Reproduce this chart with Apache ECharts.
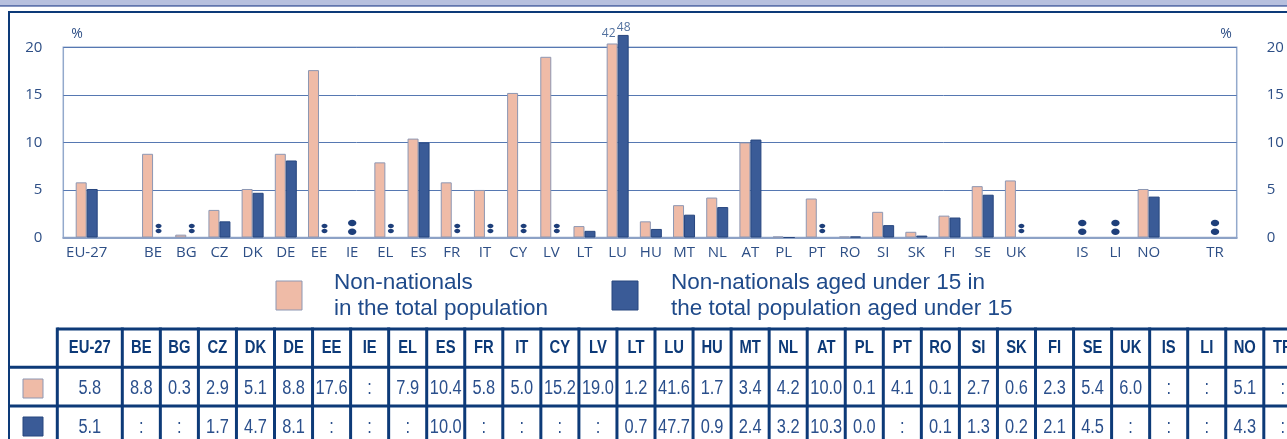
<!DOCTYPE html>
<html>
<head>
<meta charset="utf-8">
<script src="https://cdn.jsdelivr.net/npm/echarts@6/dist/echarts.min.js"></script>
<style>
html, body { margin: 0; padding: 0; background: #fff; }
#main { width: 1287px; height: 439px; }
</style>
</head>
<body>
<div id="main"></div>
<script>
// data (null = ':' not available)
var countries = ['EU-27', 'BE', 'BG', 'CZ', 'DK', 'DE', 'EE', 'IE', 'EL', 'ES', 'FR', 'IT', 'CY', 'LV', 'LT',
    'LU', 'HU', 'MT', 'NL', 'AT', 'PL', 'PT', 'RO', 'SI', 'SK', 'FI', 'SE', 'UK', 'IS', 'LI', 'NO', 'TR'];
var nonNationals = [5.8, 8.8, 0.3, 2.9, 5.1, 8.8, 17.6, null, 7.9, 10.4, 5.8, 5.0, 15.2, 19.0, 1.2,
    41.6, 1.7, 3.4, 4.2, 10.0, 0.1, 4.1, 0.1, 2.7, 0.6, 2.3, 5.4, 6.0, null, null, 5.1, null];
var nonNationalsUnder15 = [5.1, null, null, 1.7, 4.7, 8.1, null, null, null, 10.0, null, null, null, null, 0.7,
    47.7, 0.9, 2.4, 3.2, 10.3, 0.0, null, 0.1, 1.3, 0.2, 2.1, 4.5, null, null, null, 4.3, null];
var seriesNames = ['Non-nationals\nin the total population',
    'Non-nationals aged under 15 in\nthe total population aged under 15'];
var gapAfter = ['EU-27', 'UK', 'NO'];
var yTicks = [0, 5, 10, 15, 20];

var PINK = '#efbba7', BLUE = '#3a5b97', NAVY = '#0d3a78', TXT = '#2e4f86';
// bars above the axis top are cut (broken bar) at these heights
var cutAt = [20.4, 21.3];

// category slots with empty gaps between groups
var slots = [], slotTotal = [], slotU15 = [], colons = [];
countries.forEach(function (c, i) {
    var idx = slots.length;
    slots.push(c);
    var a = nonNationals[i], b = nonNationalsUnder15[i];
    slotTotal.push(a == null ? '-' : { value: Math.min(a, cutAt[0]), real: a });
    slotU15.push(b == null ? '-' : { value: Math.min(b, cutAt[1]), real: b });
    if (a == null && b == null) colons.push([idx, 2]);
    else if (b == null) colons.push([idx, 1]);
    else if (a == null) colons.push([idx, 0]);
    if (gapAfter.indexOf(c) >= 0) {
        slots.push('');
        slotTotal.push('-');
        slotU15.push('-');
    }
});

function barLabel(dx, dist) {
    return {
        show: true, position: 'top', distance: dist, offset: [dx, 0],
        color: '#52719f', fontSize: 12, fontFamily: 'Open Sans',
        formatter: function (p) { return p.data.real > 20 ? String(Math.round(p.data.real)) : ''; }
    };
}

// table + legend drawn as graphic
var graphic = [
    { type: 'rect', shape: { x: 0, y: 0, width: 1287, height: 5 }, style: { fill: '#b7c0de' } },
    { type: 'rect', shape: { x: 0, y: 5, width: 1287, height: 1.7 }, style: { fill: '#6175ad' } },
    { type: 'rect', shape: { x: 8, y: 11, width: 1279, height: 2 }, style: { fill: NAVY } },
    { type: 'rect', shape: { x: 8, y: 11, width: 2, height: 428 }, style: { fill: NAVY } },
    { type: 'text', x: 77, y: 34, style: { text: '%', fill: TXT, font: '14px "Open Sans"', align: 'center', verticalAlign: 'middle' } },
    { type: 'text', x: 1226, y: 34, style: { text: '%', fill: TXT, font: '14px "Open Sans"', align: 'center', verticalAlign: 'middle' } }
];

// legend
[[276, PINK, '#8d97b3', 334], [612, BLUE, '#27467f', 671]].forEach(function (l, i) {
    graphic.push({ type: 'rect', shape: { x: l[0], y: 281, width: 26, height: 29 },
        style: { fill: l[1], stroke: l[2], lineWidth: 1 } });
    graphic.push({ type: 'text', x: l[3], y: 296,
        style: { text: seriesNames[i], fill: '#1f4a8a', font: '22.5px "Liberation Sans", Arial, sans-serif',
            lineHeight: 25.5, verticalAlign: 'middle' } });
});

// table
var tLeft = 57.3, firstW = 65, colW = 38.05;
var rowY = [329, 367.3, 406];
var narrow = '"Liberation Sans", Arial, sans-serif', squeeze = 0.8;
var edges = [tLeft, tLeft + firstW];
for (var k = 1; k < countries.length; k++) edges.push(tLeft + firstW + k * colW);
graphic.push({ type: 'line', shape: { x1: tLeft, y1: rowY[0], x2: 1290, y2: rowY[0] }, style: { stroke: NAVY, lineWidth: 3 } });
graphic.push({ type: 'line', shape: { x1: 8, y1: rowY[1], x2: 1290, y2: rowY[1] }, style: { stroke: NAVY, lineWidth: 3 } });
graphic.push({ type: 'line', shape: { x1: 8, y1: rowY[2], x2: 1290, y2: rowY[2] }, style: { stroke: NAVY, lineWidth: 3 } });
edges.forEach(function (x) {
    graphic.push({ type: 'line', shape: { x1: x, y1: rowY[0] - 1.5, x2: x, y2: 445 }, style: { stroke: NAVY, lineWidth: 3 } });
});
function fmt(v) { return v == null ? ':' : v.toFixed(1); }
countries.forEach(function (c, i) {
    var cx = (edges[i] + edges[i + 1]) / 2;
    graphic.push({ type: 'text', x: cx, y: 348, scaleX: squeeze, style: { text: c, fill: NAVY, font: 'bold 18.5px ' + narrow, align: 'center', verticalAlign: 'middle' } });
    graphic.push({ type: 'text', x: cx, y: 388, scaleX: squeeze, style: { text: fmt(nonNationals[i]), fill: '#2a4f8c', font: '20.5px ' + narrow, align: 'center', verticalAlign: 'middle' } });
    graphic.push({ type: 'text', x: cx, y: 427, scaleX: squeeze, style: { text: fmt(nonNationalsUnder15[i]), fill: '#2a4f8c', font: '20.5px ' + narrow, align: 'center', verticalAlign: 'middle' } });
});
graphic.push({ type: 'rect', shape: { x: 23, y: 379, width: 20, height: 19 }, style: { fill: PINK, stroke: '#8d97b3', lineWidth: 1 } });
graphic.push({ type: 'rect', shape: { x: 23, y: 417, width: 20, height: 19 }, style: { fill: BLUE, stroke: '#27467f', lineWidth: 1 } });

var myChart = echarts.init(document.getElementById('main'));
myChart.setOption({
    animation: false,
    grid: [
        { left: 63.3, right: 50.3, top: 47.3, bottom: 201.5, show: true, borderColor: '#93a9cc', borderWidth: 1.5,
          containLabel: false, outerBoundsMode: 'none' },
        { left: 70.1, right: 55.4, top: 47.3, bottom: 201.5, containLabel: false, outerBoundsMode: 'none' }
    ],
    xAxis: [
        { type: 'value', gridIndex: 0, min: 0, max: 1, axisLabel: { show: false }, splitLine: { show: false },
          axisTick: { show: false }, axisLine: { show: true, lineStyle: { color: '#8da2c6', width: 2 } } },
        { type: 'category', gridIndex: 1, data: slots, boundaryGap: true,
          axisLine: { show: false }, axisTick: { show: false },
          axisLabel: { interval: 0, margin: 8, color: TXT, fontSize: 15, fontFamily: 'Open Sans' } }
    ],
    yAxis: [
        { type: 'value', gridIndex: 0, position: 'left', min: yTicks[0], max: yTicks[yTicks.length - 1], interval: 5,
          axisLine: { show: false }, axisTick: { show: false },
          axisLabel: { margin: 21, color: TXT, fontSize: 15, fontFamily: 'Open Sans', padding: [0, 0, 6, 0] },
          splitLine: { show: true, lineStyle: { color: '#5678b2', width: 1 } } },
        { type: 'value', gridIndex: 0, position: 'right', min: yTicks[0], max: yTicks[yTicks.length - 1], interval: 5,
          axisLine: { show: false }, axisTick: { show: false },
          axisLabel: { margin: 30, color: TXT, fontSize: 15, fontFamily: 'Open Sans', padding: [0, 0, 6, 0] },
          splitLine: { show: false } },
        { type: 'value', gridIndex: 1, min: 0, max: 20, show: false }
    ],
    graphic: graphic,
    series: [
        {
            name: seriesNames[0], type: 'bar', xAxisIndex: 1, yAxisIndex: 2,
            barWidth: 11, barGap: '0%', clip: false,
            itemStyle: { color: PINK, borderColor: '#8d97b3', borderWidth: 1 },
            label: barLabel(-3.5, 4),
            data: slotTotal
        },
        {
            name: seriesNames[1], type: 'bar', xAxisIndex: 1, yAxisIndex: 2,
            barWidth: 11, barGap: '0%', clip: false,
            itemStyle: { color: BLUE, borderColor: '#27467f', borderWidth: 1 },
            label: barLabel(0.5, 1),
            data: slotU15
        },
        {
            // ':' marks for missing values
            type: 'custom', xAxisIndex: 1, yAxisIndex: 2, clip: false,
            data: colons,
            encode: { x: 0 },
            renderItem: function (params, api) {
                var idx = api.value(0), kind = api.value(1);
                var base = api.coord([idx, 0]);
                var big = kind === 2;
                var dx = kind === 1 ? 5.5 : (kind === 0 ? -5.5 : 0);
                var rx = big ? 4.2 : 3, ry = big ? 3.3 : 2.2;
                var offs = big ? [-5.8, -14.5] : [-6.5, -11.5];
                return {
                    type: 'group',
                    children: offs.map(function (o) {
                        return { type: 'ellipse', shape: { cx: base[0] + dx, cy: base[1] + o, rx: rx, ry: ry },
                                 style: { fill: '#1e3f7a' } };
                    })
                };
            }
        }
    ]
});
</script>
</body>
</html>
